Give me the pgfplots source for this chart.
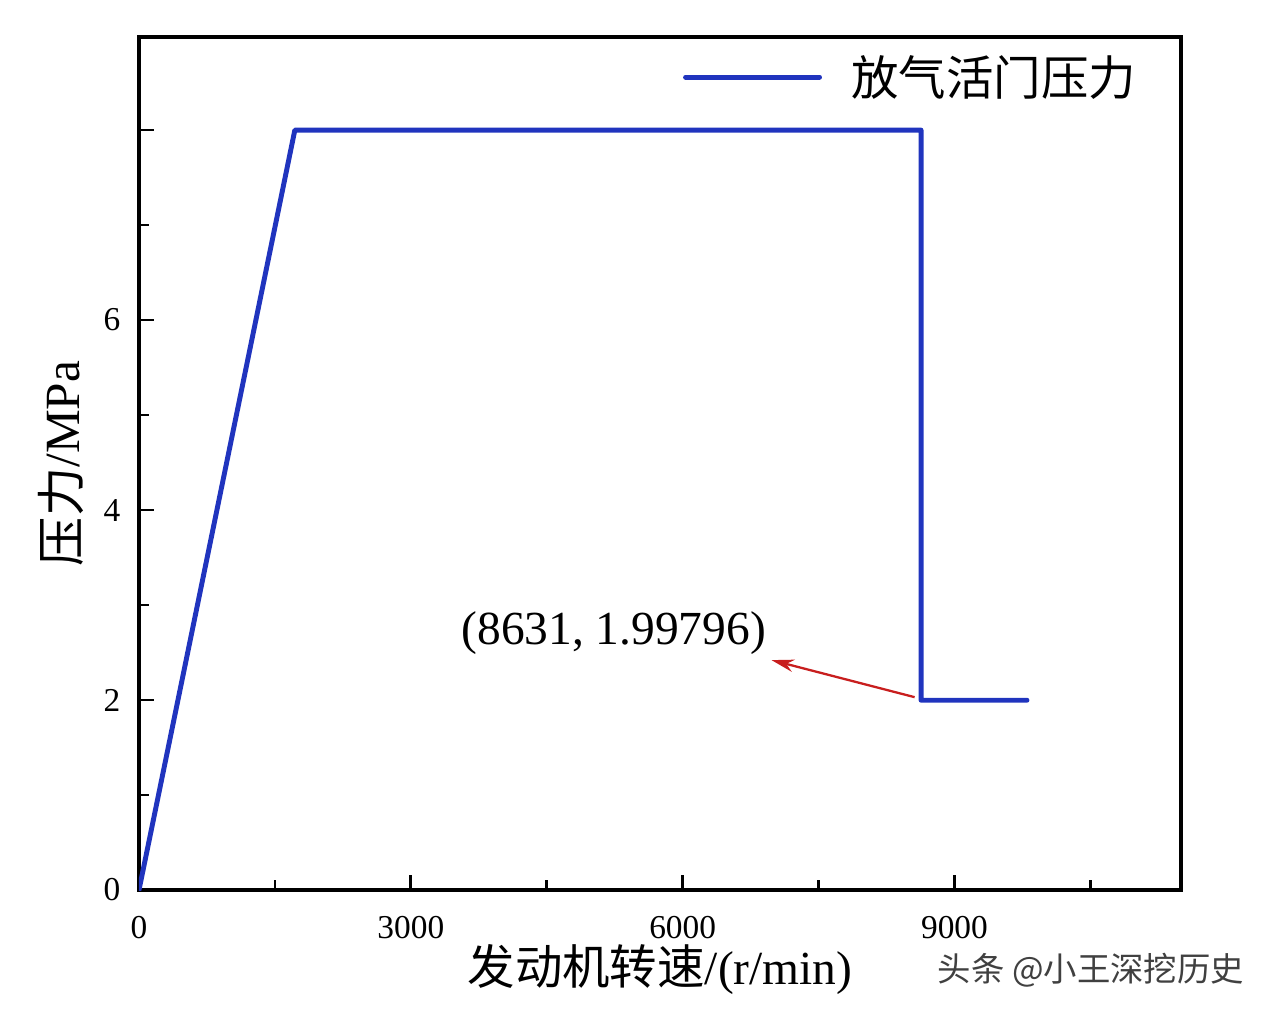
\documentclass[border=0pt]{standalone}
\usepackage{fontspec}
\setmainfont{Liberation Serif}
\newfontfamily\cjk{Noto Sans CJK SC}
\usepackage{pgfplots}
\pgfplotsset{compat=1.18}
\usetikzlibrary{arrows.meta}
\definecolor{lineblue}{RGB}{32,52,190}
\definecolor{arrowred}{RGB}{200,30,30}
\begin{document}
\begin{tikzpicture}
\path[use as bounding box] (-2.78cm,-2.52cm) rectangle (22.54cm,17.80cm);
\begin{axis}[
  at={(0,0)}, anchor=south west,
  scale only axis,
  width=20.84cm, height=17.06cm,
  xmin=0, xmax=11500, ymin=0, ymax=8.98,
  axis line style={line width=2.2pt},
  xtick={0,3000,6000,9000},
  minor xtick={1500,4500,7500,10500},
  ytick={0,2,4,6,8},
  yticklabels={0,2,4,6,},
  minor ytick={1,3,5,7},
  tick pos=left,
  tick align=inside,
  major tick length=0.3cm,
  minor tick length=0.2cm,
  every tick/.style={line width=1.6pt, black},
  /pgf/number format/assume math mode=true,
  scaled x ticks=false,
  xticklabel style={font=\fontsize{19}{22}\selectfont, /pgf/number format/1000 sep={}, yshift=-0.4cm},
  yticklabel style={font=\fontsize{19}{22}\selectfont, xshift=-0.25cm},
  xlabel={{\cjk 发动机转速}/(r/min)},
  ylabel={{\cjk 压力}/MPa},
  xlabel style={font=\fontsize{27}{30}\selectfont, yshift=0.13cm},
  ylabel style={font=\fontsize{28}{31}\selectfont, yshift=0.16cm},
  legend style={draw=none, fill=none, at={(0.9607,0.953)}, anchor=east,
    font=\fontsize{27}{30}\selectfont\cjk, inner sep=0pt},
  legend cell align=left,
  legend image code/.code={\draw[#1] (0cm,0cm) -- (2.68cm,0cm); \path (3.2cm,0cm);},
]
\addplot[lineblue, line width=2.8pt, line join=round, line cap=round] coordinates {
  (0,0) (1720,8) (8631,8) (8631,1.99796) (9800,1.99796)
};
\addlegendentry{放气活门压力}
\node[font=\fontsize{27}{30}\selectfont] at (axis cs:5240,2.705) {(8631, 1.99796)};
\draw[arrowred, line width=1.3pt, -{Stealth[length=0.45cm,width=0.25cm]}] (axis cs:8560,2.03) -- (axis cs:6981,2.42);
\end{axis}
\node[font=\fontsize{19}{22}\selectfont\cjk, text=black!75, anchor=center] at (19.04cm,-1.6cm) {头条 @小王深挖历史};
\end{tikzpicture}
\end{document}
